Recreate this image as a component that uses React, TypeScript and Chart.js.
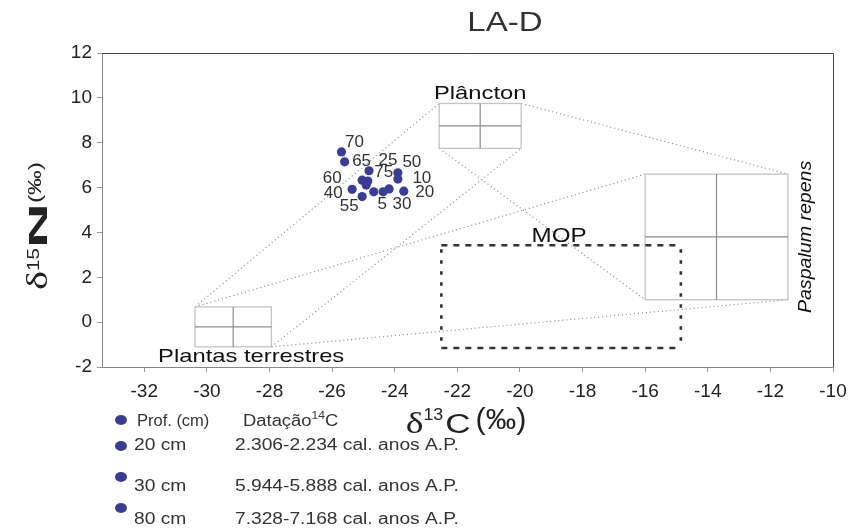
import React, { useEffect, useRef } from "react";
import { Chart, registerables } from "chart.js";
Chart.register(...registerables);

// ---- data ----
const xTicks = [-32, -30, -28, -26, -24, -22, -20, -18, -16, -14, -12, -10];
const yTicks = [-2, 0, 2, 4, 6, 8, 10, 12];

const sampleX = [-25.7, -25.6, -24.82, -23.9, -23.9, -25.04, -24.86, -24.91, -25.36, -25.04, -24.67, -24.37, -24.18, -23.71];
const sampleY = [7.59, 7.15, 6.75, 6.66, 6.38, 6.33, 6.29, 6.11, 5.92, 5.6, 5.81, 5.81, 5.94, 5.84];
const sampleLabels = ["70", "65", "25", "50", "10", "60", "75", "", "40", "55", "", "5", "30", "20"];

const sourceNames = ["Plantas terrestres", "Plâncton", "Paspalum repens"];
const sourceMeanX = [-29.16, -21.27, -13.72];
const sourceMeanY = [-0.21, 8.75, 3.8];
const sourceSdX = [1.22, 1.31, 2.28];
const sourceSdY = [0.89, 1.0, 2.8];

const mopName = "MOP";
const mopX = [-22.51, -14.86];
const mopY = [-1.15, 3.43];

// source corner connections [fromSource, corner, toSource, corner]
const mixingLinks: [number, string, number, string][] = [
  [0, "TL", 1, "TL"],
  [0, "TL", 2, "TL"],
  [0, "BR", 1, "BR"],
  [0, "BR", 2, "BR"],
  [1, "TR", 2, "TR"],
  [1, "BL", 2, "BL"],
];

const legendDepths = ["Prof. (cm)", "20 cm", "30 cm", "80 cm"];
const legendDates = ["Datação", "2.306-2.234 cal. anos A.P.", "5.944-5.888 cal. anos A.P.", "7.328-7.168 cal. anos A.P."];

const chartTitle = "LA-D";

// ---- styling ----
const SANS = "'Liberation Sans', Arial, sans-serif";
const SERIF = "'Liberation Serif', 'Times New Roman', serif";
const DOT = "#3a3d94";

// label pixel offsets relative to their points
const labelOffsets: [number, number][] = [
  [13, -10], [17, 0], [19, -10], [14, -10], [24, -1], [-30, -2], [16, -9], [0, 0],
  [-19, 4], [-13, 10], [0, 0], [-1, 12], [13, 15], [21, 1],
];

type Seg = { text: string; font: string; dy?: number; sx?: number; gap?: number };
function drawRich(ctx: CanvasRenderingContext2D, segs: Seg[], x: number, y: number, align: "left" | "center") {
  ctx.textAlign = "left";
  ctx.textBaseline = "alphabetic";
  const widths = segs.map((s) => {
    ctx.font = s.font;
    return ctx.measureText(s.text).width * (s.sx || 1) + (s.gap || 0);
  });
  const total = widths.reduce((a, b) => a + b, 0);
  let cx = align === "center" ? x - total / 2 : x;
  segs.forEach((s, i) => {
    ctx.save();
    ctx.translate(cx + (s.gap || 0), y - (s.dy || 0));
    ctx.scale(s.sx || 1, 1);
    ctx.font = s.font;
    ctx.fillText(s.text, 0, 0);
    ctx.restore();
    cx += widths[i];
  });
}

const overlayPlugin = {
  id: "overlay",
  beforeDatasetsDraw(chart: any) {
    const ctx: CanvasRenderingContext2D = chart.ctx;
    const xs = chart.scales.x;
    const ys = chart.scales.y;
    const corner = (i: number, c: string) => {
      const x = c[1] === "L" ? sourceMeanX[i] - sourceSdX[i] : sourceMeanX[i] + sourceSdX[i];
      const y = c[0] === "T" ? sourceMeanY[i] + sourceSdY[i] : sourceMeanY[i] - sourceSdY[i];
      return [xs.getPixelForValue(x), ys.getPixelForValue(y)];
    };
    ctx.save();
    // mixing lines
    ctx.strokeStyle = "#9a9a9a";
    ctx.lineWidth = 1.2;
    ctx.setLineDash([1.2, 2.8]);
    mixingLinks.forEach(([a, ca, b, cb]) => {
      const p = corner(a, ca);
      const q = corner(b, cb);
      ctx.beginPath();
      ctx.moveTo(p[0], p[1]);
      ctx.lineTo(q[0], q[1]);
      ctx.stroke();
    });
    ctx.setLineDash([]);
    // source boxes
    sourceNames.forEach((_, i) => {
      const l = xs.getPixelForValue(sourceMeanX[i] - sourceSdX[i]);
      const r = xs.getPixelForValue(sourceMeanX[i] + sourceSdX[i]);
      const t = ys.getPixelForValue(sourceMeanY[i] + sourceSdY[i]);
      const b = ys.getPixelForValue(sourceMeanY[i] - sourceSdY[i]);
      const mx = xs.getPixelForValue(sourceMeanX[i]);
      const my = ys.getPixelForValue(sourceMeanY[i]);
      ctx.fillStyle = "#ffffff";
      ctx.fillRect(l, t, r - l, b - t);
      ctx.strokeStyle = "#c4c4c4";
      ctx.lineWidth = 1.3;
      ctx.strokeRect(l, t, r - l, b - t);
      ctx.strokeStyle = "#8c8c8c";
      ctx.lineWidth = 1.2;
      ctx.beginPath();
      ctx.moveTo(mx, t);
      ctx.lineTo(mx, b);
      ctx.moveTo(l, my);
      ctx.lineTo(r, my);
      ctx.stroke();
    });
    // MOP dashed box
    const ml = xs.getPixelForValue(mopX[0]);
    const mr = xs.getPixelForValue(mopX[1]);
    const mt = ys.getPixelForValue(mopY[1]);
    const mb = ys.getPixelForValue(mopY[0]);
    ctx.strokeStyle = "#333333";
    ctx.lineWidth = 2.6;
    ctx.setLineDash([6, 6]);
    ctx.beginPath();
    ctx.moveTo(ml, mt);
    ctx.lineTo(mr, mt);
    ctx.moveTo(ml, mb);
    ctx.lineTo(mr, mb);
    ctx.stroke();
    ctx.setLineDash([3.5, 7.5]);
    ctx.beginPath();
    ctx.moveTo(ml, mt + 4);
    ctx.lineTo(ml, mb);
    ctx.moveTo(mr, mt + 4);
    ctx.lineTo(mr, mb);
    ctx.stroke();
    ctx.restore();
  },
  afterDatasetsDraw(chart: any) {
    const ctx: CanvasRenderingContext2D = chart.ctx;
    const xs = chart.scales.x;
    const ys = chart.scales.y;
    const area = chart.chartArea;
    ctx.save();
    // frame top/right
    ctx.strokeStyle = "#444";
    ctx.lineWidth = 1;
    ctx.beginPath();
    ctx.moveTo(area.left, area.top + 0.5);
    ctx.lineTo(area.right + 0.5, area.top + 0.5);
    ctx.lineTo(area.right + 0.5, area.bottom);
    ctx.stroke();

    // point labels
    ctx.fillStyle = "#333";
    ctx.font = `17px ${SANS}`;
    ctx.textAlign = "center";
    ctx.textBaseline = "middle";
    sampleLabels.forEach((lab, i) => {
      if (!lab) return;
      const px = xs.getPixelForValue(sampleX[i]) + labelOffsets[i][0];
      const py = ys.getPixelForValue(sampleY[i]) + labelOffsets[i][1];
      ctx.fillText(lab, px, py);
    });

    // source labels
    ctx.fillStyle = "#111";
    drawRich(
      ctx,
      [{ text: sourceNames[0], font: `19px ${SANS}`, sx: 1.25 }],
      xs.getPixelForValue(sourceMeanX[0]) + 18,
      ys.getPixelForValue(sourceMeanY[0] - sourceSdY[0]) + 15,
      "center"
    );
    drawRich(
      ctx,
      [{ text: sourceNames[1], font: `19px ${SANS}`, sx: 1.25 }],
      xs.getPixelForValue(sourceMeanX[1]),
      ys.getPixelForValue(sourceMeanY[1] + sourceSdY[1]) - 4,
      "center"
    );
    ctx.save();
    ctx.translate(xs.getPixelForValue(sourceMeanX[2] + sourceSdX[2]) + 23, ys.getPixelForValue(sourceMeanY[2]));
    ctx.rotate(-Math.PI / 2);
    drawRich(ctx, [{ text: sourceNames[2], font: `italic 19px ${SANS}`, sx: 1.03 }], 0, 0, "center");
    ctx.restore();
    drawRich(
      ctx,
      [{ text: mopName, font: `21px ${SANS}`, sx: 1.15 }],
      (xs.getPixelForValue(mopX[0]) + xs.getPixelForValue(mopX[1])) / 2 - 2,
      ys.getPixelForValue(mopY[1]) - 3,
      "center"
    );

    // title
    ctx.fillStyle = "#333";
    drawRich(ctx, [{ text: chartTitle, font: `28px ${SANS}`, sx: 1.18 }], 505, 31, "center");

    // axis titles
    ctx.fillStyle = "#222";
    drawRich(
      ctx,
      [
        { text: "δ", font: `29px ${SERIF}`, sx: 1.3 },
        { text: "13", font: `17px ${SANS}`, dy: 13, sx: 1.05 },
        { text: "C", font: `27px ${SANS}`, sx: 1.3, gap: 2 },
        { text: "(‰)", font: `29px ${SANS}`, dy: 4, sx: 1.05, gap: 5 },
      ],
      466,
      433,
      "center"
    );
    ctx.save();
    ctx.translate(47, 226);
    ctx.rotate(-Math.PI / 2);
    drawRich(
      ctx,
      [
        { text: "δ", font: `30px ${SERIF}`, sx: 1.35 },
        { text: "15", font: `17px ${SANS}`, dy: 8, sx: 1.2 },
        { text: "N", font: `bold 25px ${SANS}`, sx: 2.5 },
        { text: "(‰)", font: `19px ${SANS}`, dy: 6, sx: 1.3 },
      ],
      0,
      0,
      "center"
    );
    ctx.restore();

    // legend
    const rowBase = [426, 450, 491, 524];
    const rowDot = [420, 446, 477, 508];
    rowBase.forEach((yb, r) => {
      ctx.fillStyle = DOT;
      ctx.beginPath();
      ctx.ellipse(121, rowDot[r], 6, 5, 0, 0, Math.PI * 2);
      ctx.fill();
      ctx.fillStyle = "#333";
      drawRich(
        ctx,
        [{ text: legendDepths[r], font: `16px ${SANS}`, sx: r === 0 ? 1.03 : 1.2 }],
        r === 0 ? 137 : 134,
        yb,
        "left"
      );
      if (r === 0) {
        drawRich(
          ctx,
          [
            { text: legendDates[r], font: `16px ${SANS}`, sx: 1.15 },
            { text: "14", font: `11px ${SANS}`, dy: 7, sx: 1.1 },
            { text: "C", font: `16px ${SANS}`, sx: 1.15 },
          ],
          243,
          yb,
          "left"
        );
      } else {
        drawRich(ctx, [{ text: legendDates[r], font: `16px ${SANS}`, sx: 1.2 }], 235, yb, "left");
      }
    });
    ctx.restore();
  },
};

export default function App() {
  const ref = useRef<HTMLCanvasElement | null>(null);
  useEffect(() => {
    if (!ref.current) return;
    const chart = new Chart(ref.current, {
      type: "scatter",
      data: {
        datasets: [
          {
            label: "Prof. (cm)",
            data: sampleX.map((x, i) => ({ x, y: sampleY[i] })),
            backgroundColor: DOT,
            borderColor: DOT,
            pointRadius: 4.6,
            pointBorderWidth: 0,
          },
        ],
      },
      options: {
        animation: false,
        responsive: true,
        maintainAspectRatio: false,
        layout: { padding: { left: 0, top: 53, right: 32, bottom: 124 } },
        plugins: { legend: { display: false }, tooltip: { enabled: false }, title: { display: false } },
        scales: {
          x: {
            type: "linear",
            min: -33.35,
            max: -10,
            afterBuildTicks: (s: any) => {
              s.ticks = xTicks.map((v) => ({ value: v }));
            },
            afterFit: (s: any) => {
              s.height = 40;
            },
            grid: { display: true, drawOnChartArea: false, drawTicks: true, tickLength: 5, color: "#999" },
            border: { color: "#888", width: 1 },
            ticks: { font: { family: SANS, size: 19 }, color: "#222", padding: 8, maxRotation: 0, autoSkip: false },
          },
          y: {
            type: "linear",
            min: -2,
            max: 12,
            afterBuildTicks: (s: any) => {
              s.ticks = yTicks.map((v) => ({ value: v }));
            },
            afterFit: (s: any) => {
              s.width = 102;
            },
            grid: { display: true, drawOnChartArea: false, drawTicks: true, tickLength: 5, color: "#999" },
            border: { color: "#888", width: 1 },
            ticks: { font: { family: SANS, size: 19 }, color: "#222", padding: 5, autoSkip: false },
          },
        },
      },
      plugins: [overlayPlugin],
    } as any);
    return () => chart.destroy();
  }, []);
  return (
    <div style={{ position: "fixed", left: 0, top: 0, width: 865, height: 531, background: "#fff" }}>
      <canvas ref={ref} />
    </div>
  );
}
